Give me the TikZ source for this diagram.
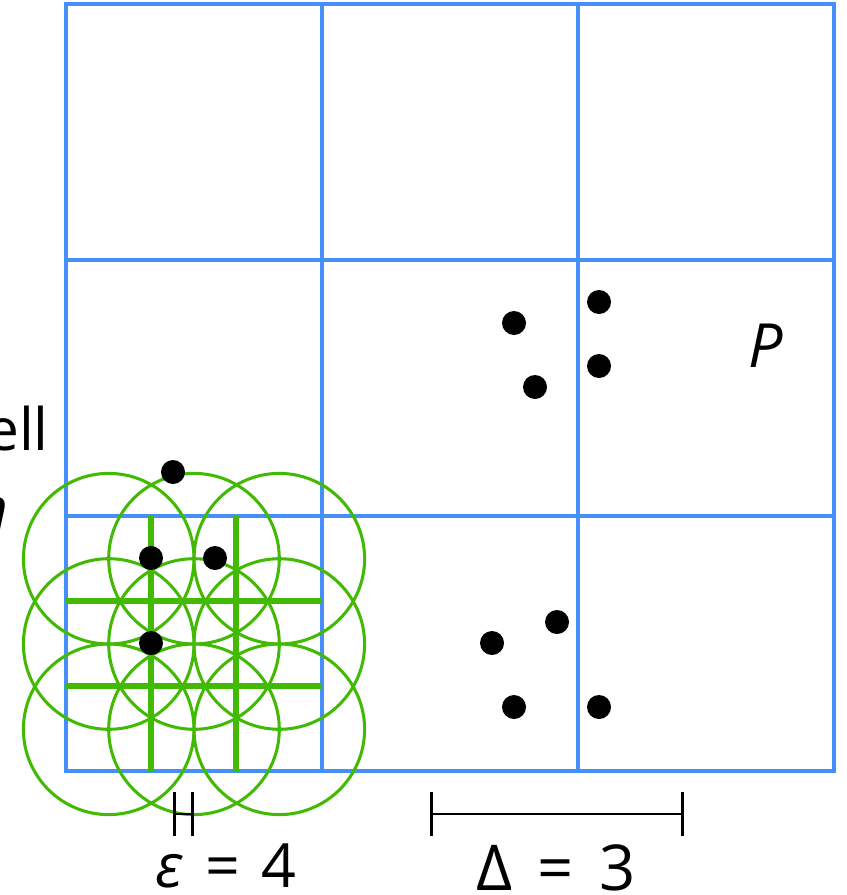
\documentclass[tikz,border=0pt]{standalone}
\usepackage{fontspec}
\setmainfont{Open Sans}
\usetikzlibrary{arrows.meta,positioning}
\definecolor{GridBlue}{RGB}{70,142,250}
\definecolor{BallGreen}{RGB}{66,186,4}
\begin{document}
\begin{tikzpicture}[x=0.03cm,y=-0.03cm,
  pt/.style={circle,fill=black,inner sep=0pt,minimum size=0.72cm},
  lbl/.style={font=\fontsize{50}{60}\selectfont,inner sep=0pt},
  ruler/.style={{Bar[width=1.3cm]}-{Bar[width=1.3cm]},line width=2.4pt}]
\useasboundingbox (0,0) rectangle (847,895);
\clip (0,0) rectangle (847,895);
% coarse grid
\draw[GridBlue,line width=2.7pt] (66,4) rectangle (834,771);
\foreach \v in {322,578}{\draw[GridBlue,line width=2.7pt] (\v,4)--(\v,771);\draw[GridBlue,line width=2.7pt] (66,\v-62)--(834,\v-62);}
% fine grid in the corner cell
\foreach \v in {151,236}{\draw[BallGreen,line width=5.2pt] (\v,516)--(\v,771);}
\foreach \v in {601,686}{\draw[BallGreen,line width=5.2pt] (66,\v)--(322,\v);}
\foreach \cx in {108.7,194,279.3}{\foreach \cy in {558.7,644,729.3}{\draw[BallGreen,line width=2.6pt] (\cx,\cy) circle[radius=85.3];}}
% points
\node[pt] (p1) at (173,472){};
\node[pt] (p2) at (151,558){};
\node[pt] (p3) at (215,558){};
\node[pt] (p4) at (151,643){};
\node[pt] (p5) at (514,323){};
\node[pt] (p6) at (599,302){};
\node[pt] (p7) at (599,366){};
\node[pt] (p8) at (535,387){};
\node[pt] (p9) at (557,622){};
\node[pt] (p10) at (492,643){};
\node[pt] (p11) at (514,707){};
\node[pt] (p12) at (599,707){};
% labels
\node[lbl,anchor=base east] (cl) at (49,450){ell};
\node[lbl,anchor=base east,font=\fontsize{50}{60}\selectfont\itshape] (ml) at (9,529){m};
\node[lbl,anchor=base,font=\fontsize{52}{60}\selectfont\itshape] (pl) at (766,367){P};
\coordinate (e1) at (173,814);\coordinate (e2) at (194,814);
\coordinate (d1) at (430,814);\coordinate (d2) at (684,814);
\draw[ruler] (e1)--(e2);
\draw[ruler] (d1)--(d2);
\node[lbl,anchor=base,font=\fontsize{52}{60}\selectfont] (el) at (226,887){\textit{ε}\hspace{0.35em}=\hspace{0.35em}4};
\node[lbl,anchor=base,font=\fontsize{54}{60}\selectfont] (dl) at (556,890){Δ\hspace{0.4em}=\hspace{0.4em}3};
\end{tikzpicture}
\end{document}
